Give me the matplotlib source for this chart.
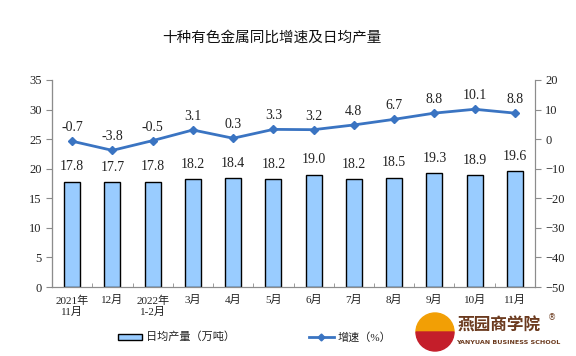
import matplotlib
matplotlib.use("Agg")
import matplotlib.pyplot as plt
import numpy as np
from matplotlib.patches import Wedge

plt.rcParams['font.family'] = ['Liberation Serif', 'Noto Sans CJK SC', 'DejaVu Sans']

months = ["2021年\n11月", "12月", "2022年\n1-2月", "3月", "4月", "5月",
          "6月", "7月", "8月", "9月", "10月", "11月"]
daily_output = [17.8, 17.7, 17.8, 18.2, 18.4, 18.2, 19.0, 18.2, 18.5, 19.3, 18.9, 19.6]
growth = [-0.7, -3.8, -0.5, 3.1, 0.3, 3.3, 3.2, 4.8, 6.7, 8.8, 10.1, 8.8]

bar_color = "#99CCFF"
line_color = "#3A74C2"
axis_color = "#8C8C8C"
text_color = "#222222"

fig = plt.figure(figsize=(5.76, 3.56), dpi=100)
ax = fig.add_axes([0.0903, 0.1938, 0.8385, 0.5815])
ax2 = ax.twinx()

x = np.arange(len(months))
ax.bar(x, daily_output, width=0.4, color=bar_color, edgecolor="black", lw=1.0, zorder=2)
for xi, v in zip(x, daily_output):
    ax.annotate(f"{v:.1f}", (xi, v), xytext=(0, 6), textcoords="offset points",
                ha="center", va="bottom", fontsize=10, color=text_color)

ax2.plot(x, growth, color=line_color, lw=2.0, marker="D", ms=4.5, zorder=3)
for xi, v in zip(x, growth):
    ax2.annotate(f"{v:.1f}", (xi, v), xytext=(0, 5), textcoords="offset points",
                 ha="center", va="bottom", fontsize=10, color=text_color)

ax.set_xlim(-0.5, len(months) - 0.5)
ax.set_ylim(0, 35)
ax.set_yticks(np.arange(0, 36, 5))
ax2.set_ylim(-50, 20)
ax2.set_yticks(np.arange(-50, 21, 10))

ax.set_xticks(x)
ax.set_xticklabels(months, fontsize=8, color=text_color, linespacing=1.1)
ax.set_xticks(np.arange(0.5, len(months) - 0.5, 1), minor=True)
ax.tick_params(axis="x", which="major", length=0, pad=6)
ax.tick_params(axis="x", which="minor", length=3, direction="in", color=axis_color)
ax.tick_params(axis="y", length=4, color=axis_color, labelsize=9, labelcolor=text_color)
ax2.tick_params(axis="y", length=4, color=axis_color, labelsize=9, labelcolor=text_color)

for a in (ax, ax2):
    a.spines["top"].set_visible(False)
    for s in ("left", "right", "bottom"):
        a.spines[s].set_color(axis_color)
ax.spines["left"].set_color("#333333")

fig.text(0.472, 0.895, "十种有色金属同比增速及日均产量", ha="center", va="center",
         fontsize=10.5, family=["Noto Sans CJK SC"], color="#111111")

# legend drawn by hand to match placement
fig.patches.append(plt.Rectangle((118 / 576, 1 - 340 / 356), 24 / 576, 6 / 356,
                                 transform=fig.transFigure, facecolor=bar_color,
                                 edgecolor="black", lw=1.0))
fig.text(146 / 576, 1 - 337 / 356, "日均产量（万吨）", ha="left", va="center",
         fontsize=8, color=text_color)
fig.lines.append(plt.Line2D([309 / 576, 334 / 576], [1 - 337 / 356] * 2,
                            transform=fig.transFigure, color=line_color, lw=2,
                            marker="D", ms=3.5, markevery=[1]))
fig.lines[-1].set_xdata([309 / 576, 321 / 576, 334 / 576])
fig.lines[-1].set_ydata([1 - 337 / 356] * 3)
fig.text(338 / 576, 1 - 337 / 356, "增速（%）", ha="left", va="center",
         fontsize=8, color=text_color)

# watermark logo
logo = fig.add_axes([415 / 576, 1 - 352 / 356, 40 / 576, 40 / 356])
logo.set_xlim(-1, 1)
logo.set_ylim(-1, 1)
logo.set_aspect("equal")
logo.axis("off")
logo.add_patch(Wedge((0, 0), 0.95, 0, 180, color="#F29F05"))
logo.add_patch(Wedge((0, 0), 0.95, 180, 360, color="#C41E2A"))
fig.text(458 / 576, 1 - 326 / 356, "燕园商学院", ha="left", va="center", fontsize=12,
         fontweight="bold", family=["Noto Sans CJK SC"], color="#6B3A1E")
fig.text(548 / 576, 1 - 318 / 356, "®", ha="left", va="center", fontsize=6,
         family=["DejaVu Sans"], color="#6B3A1E")
fig.text(456 / 576, 1 - 343 / 356, "YANYUAN BUSINESS SCHOOL", ha="left", va="center",
         fontsize=4.6, fontweight="bold", family=["DejaVu Sans"], color="#6B3A1E")

fig.savefig("out.png", dpi=100)
